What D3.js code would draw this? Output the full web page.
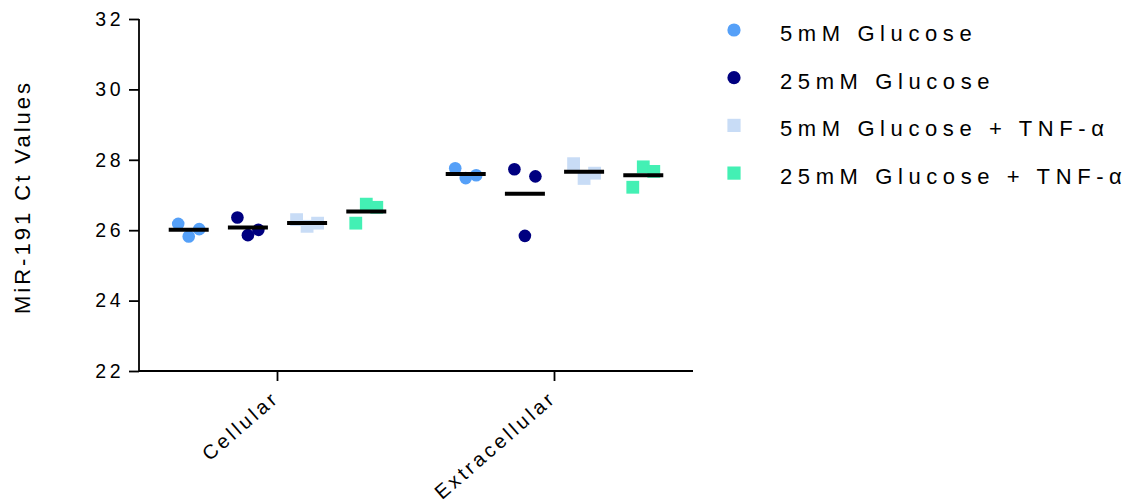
<!DOCTYPE html>
<html>
<head>
<meta charset="utf-8">
<script src="https://cdn.jsdelivr.net/npm/d3@7/dist/d3.min.js"></script>
<style>
  html, body { margin: 0; padding: 0; background: #fff; }
  svg { display: block; font-family: Arial, "Liberation Sans", sans-serif; }
</style>
</head>
<body>
<svg id="chart" width="1137" height="502"></svg>
<script>
// Compartments on the x axis
const groups = ["Cellular", "Extracellular"];

// Treatment series, in plotting order
const seriesNames = [
  "5mM Glucose",
  "25mM Glucose",
  "5mM Glucose + TNF-\u03b1",
  "25mM Glucose + TNF-\u03b1"
];

// Replicate Ct values per compartment (left, middle, right replicate)
const glucose5      = [[26.18, 25.82, 26.03], [27.76, 27.48, 27.56]];
const glucose25     = [[26.36, 25.86, 26.01], [27.73, 25.84, 27.53]];
const glucose5TNF   = [[26.30, 26.11, 26.20], [27.89, 27.47, 27.62]];
const glucose25TNF  = [[26.20, 26.74, 26.65], [27.22, 27.80, 27.67]];

const yTicks = [22, 24, 26, 28, 30, 32];

const seriesValues = [glucose5, glucose25, glucose5TNF, glucose25TNF];
const seriesColors = ["#55a0f8", "#000080", "#c8dcf6", "#43f0b4"];
const seriesShapes = ["circle", "circle", "square", "square"];

const svg = d3.select("#chart");
const plotLeft = 139, plotRight = 693, plotTop = 19, plotBottom = 371;

const y = d3.scaleLinear().domain([22, 32]).range([plotBottom, plotTop]);
const x = d3.scaleBand().domain(groups).range([plotLeft, plotRight]);
const xInner = d3.scaleBand().domain(seriesNames).range([0, x.bandwidth()]).paddingOuter(0.34);

const axisStroke = 1.8;

// Y axis
const yAxis = svg.append("g")
  .attr("transform", `translate(${plotLeft},0)`)
  .call(d3.axisLeft(y).tickValues(yTicks).tickSize(10).tickPadding(5).tickFormat(d3.format("d")));
yAxis.select(".domain").attr("stroke", "#000").attr("stroke-width", axisStroke).attr("d", `M0,${plotTop}V${plotBottom}`);
yAxis.selectAll(".tick line").attr("stroke", "#000").attr("stroke-width", axisStroke);
yAxis.selectAll(".tick text")
  .attr("fill", "#000")
  .style("font-size", "19.5px")
  .style("letter-spacing", "3.5px")
  .style("font-family", "Arial, 'Liberation Sans', sans-serif");

// X axis
const xAxis = svg.append("g")
  .attr("transform", `translate(0,${plotBottom})`)
  .call(d3.axisBottom(x).tickSize(10).tickFormat(""));
xAxis.select(".domain").attr("stroke", "#000").attr("stroke-width", axisStroke).attr("d", `M${plotLeft},0H${plotRight}`);
xAxis.selectAll(".tick line").attr("stroke", "#000").attr("stroke-width", axisStroke);

// Rotated category labels
svg.append("g").selectAll("text")
  .data(groups)
  .join("text")
  .attr("transform", d => `translate(${x(d) + x.bandwidth() / 2 + 3},${plotBottom + 29}) rotate(-41)`)
  .attr("text-anchor", "end")
  .style("font-size", "20px")
  .style("letter-spacing", "3.3px")
  .attr("fill", "#000")
  .text(d => d);

// Y axis title
svg.append("text")
  .attr("transform", `translate(30,197) rotate(-90)`)
  .attr("text-anchor", "middle")
  .style("font-size", "22px")
  .style("letter-spacing", "3px")
  .attr("fill", "#000")
  .text("MiR-191 Ct Values");

// Points and mean lines
const jitter = 10.5;
const markerR = 6.3, squareSize = 12.8;
const plot = svg.append("g");

seriesNames.forEach((name, si) => {
  groups.forEach((g, gi) => {
    const cx = x(g) + xInner(name) + xInner.bandwidth() / 2;
    const vals = seriesValues[si][gi];
    const pts = vals.map((v, i) => ({ v, px: cx + (i - 1) * jitter }));
    if (seriesShapes[si] === "circle") {
      plot.selectAll(null).data(pts).join("circle")
        .attr("cx", d => d.px).attr("cy", d => y(d.v)).attr("r", markerR)
        .attr("fill", seriesColors[si]);
    } else {
      plot.selectAll(null).data(pts).join("rect")
        .attr("x", d => d.px - squareSize / 2).attr("y", d => y(d.v) - squareSize / 2)
        .attr("width", squareSize).attr("height", squareSize)
        .attr("fill", seriesColors[si]);
    }
    const mean = d3.mean(vals);
    plot.append("line")
      .attr("x1", cx - 20).attr("x2", cx + 20)
      .attr("y1", y(mean)).attr("y2", y(mean))
      .attr("stroke", "#000").attr("stroke-width", 4);
  });
});

// Legend
const legend = svg.append("g").attr("transform", "translate(734,30)");
const legendStep = 47.7;
seriesNames.forEach((name, i) => {
  const row = legend.append("g").attr("transform", `translate(0,${i * legendStep})`);
  if (seriesShapes[i] === "circle") {
    row.append("circle").attr("r", 6.6).attr("fill", seriesColors[i]);
  } else {
    row.append("rect").attr("x", -6.6).attr("y", -6.6).attr("width", 13.2).attr("height", 13.2)
      .attr("fill", seriesColors[i]);
  }
  row.append("text")
    .attr("x", 46).attr("y", 11)
    .style("font-size", "22px")
    .style("letter-spacing", "5.6px")
    .attr("fill", "#000")
    .text(name);
});
</script>
</body>
</html>
